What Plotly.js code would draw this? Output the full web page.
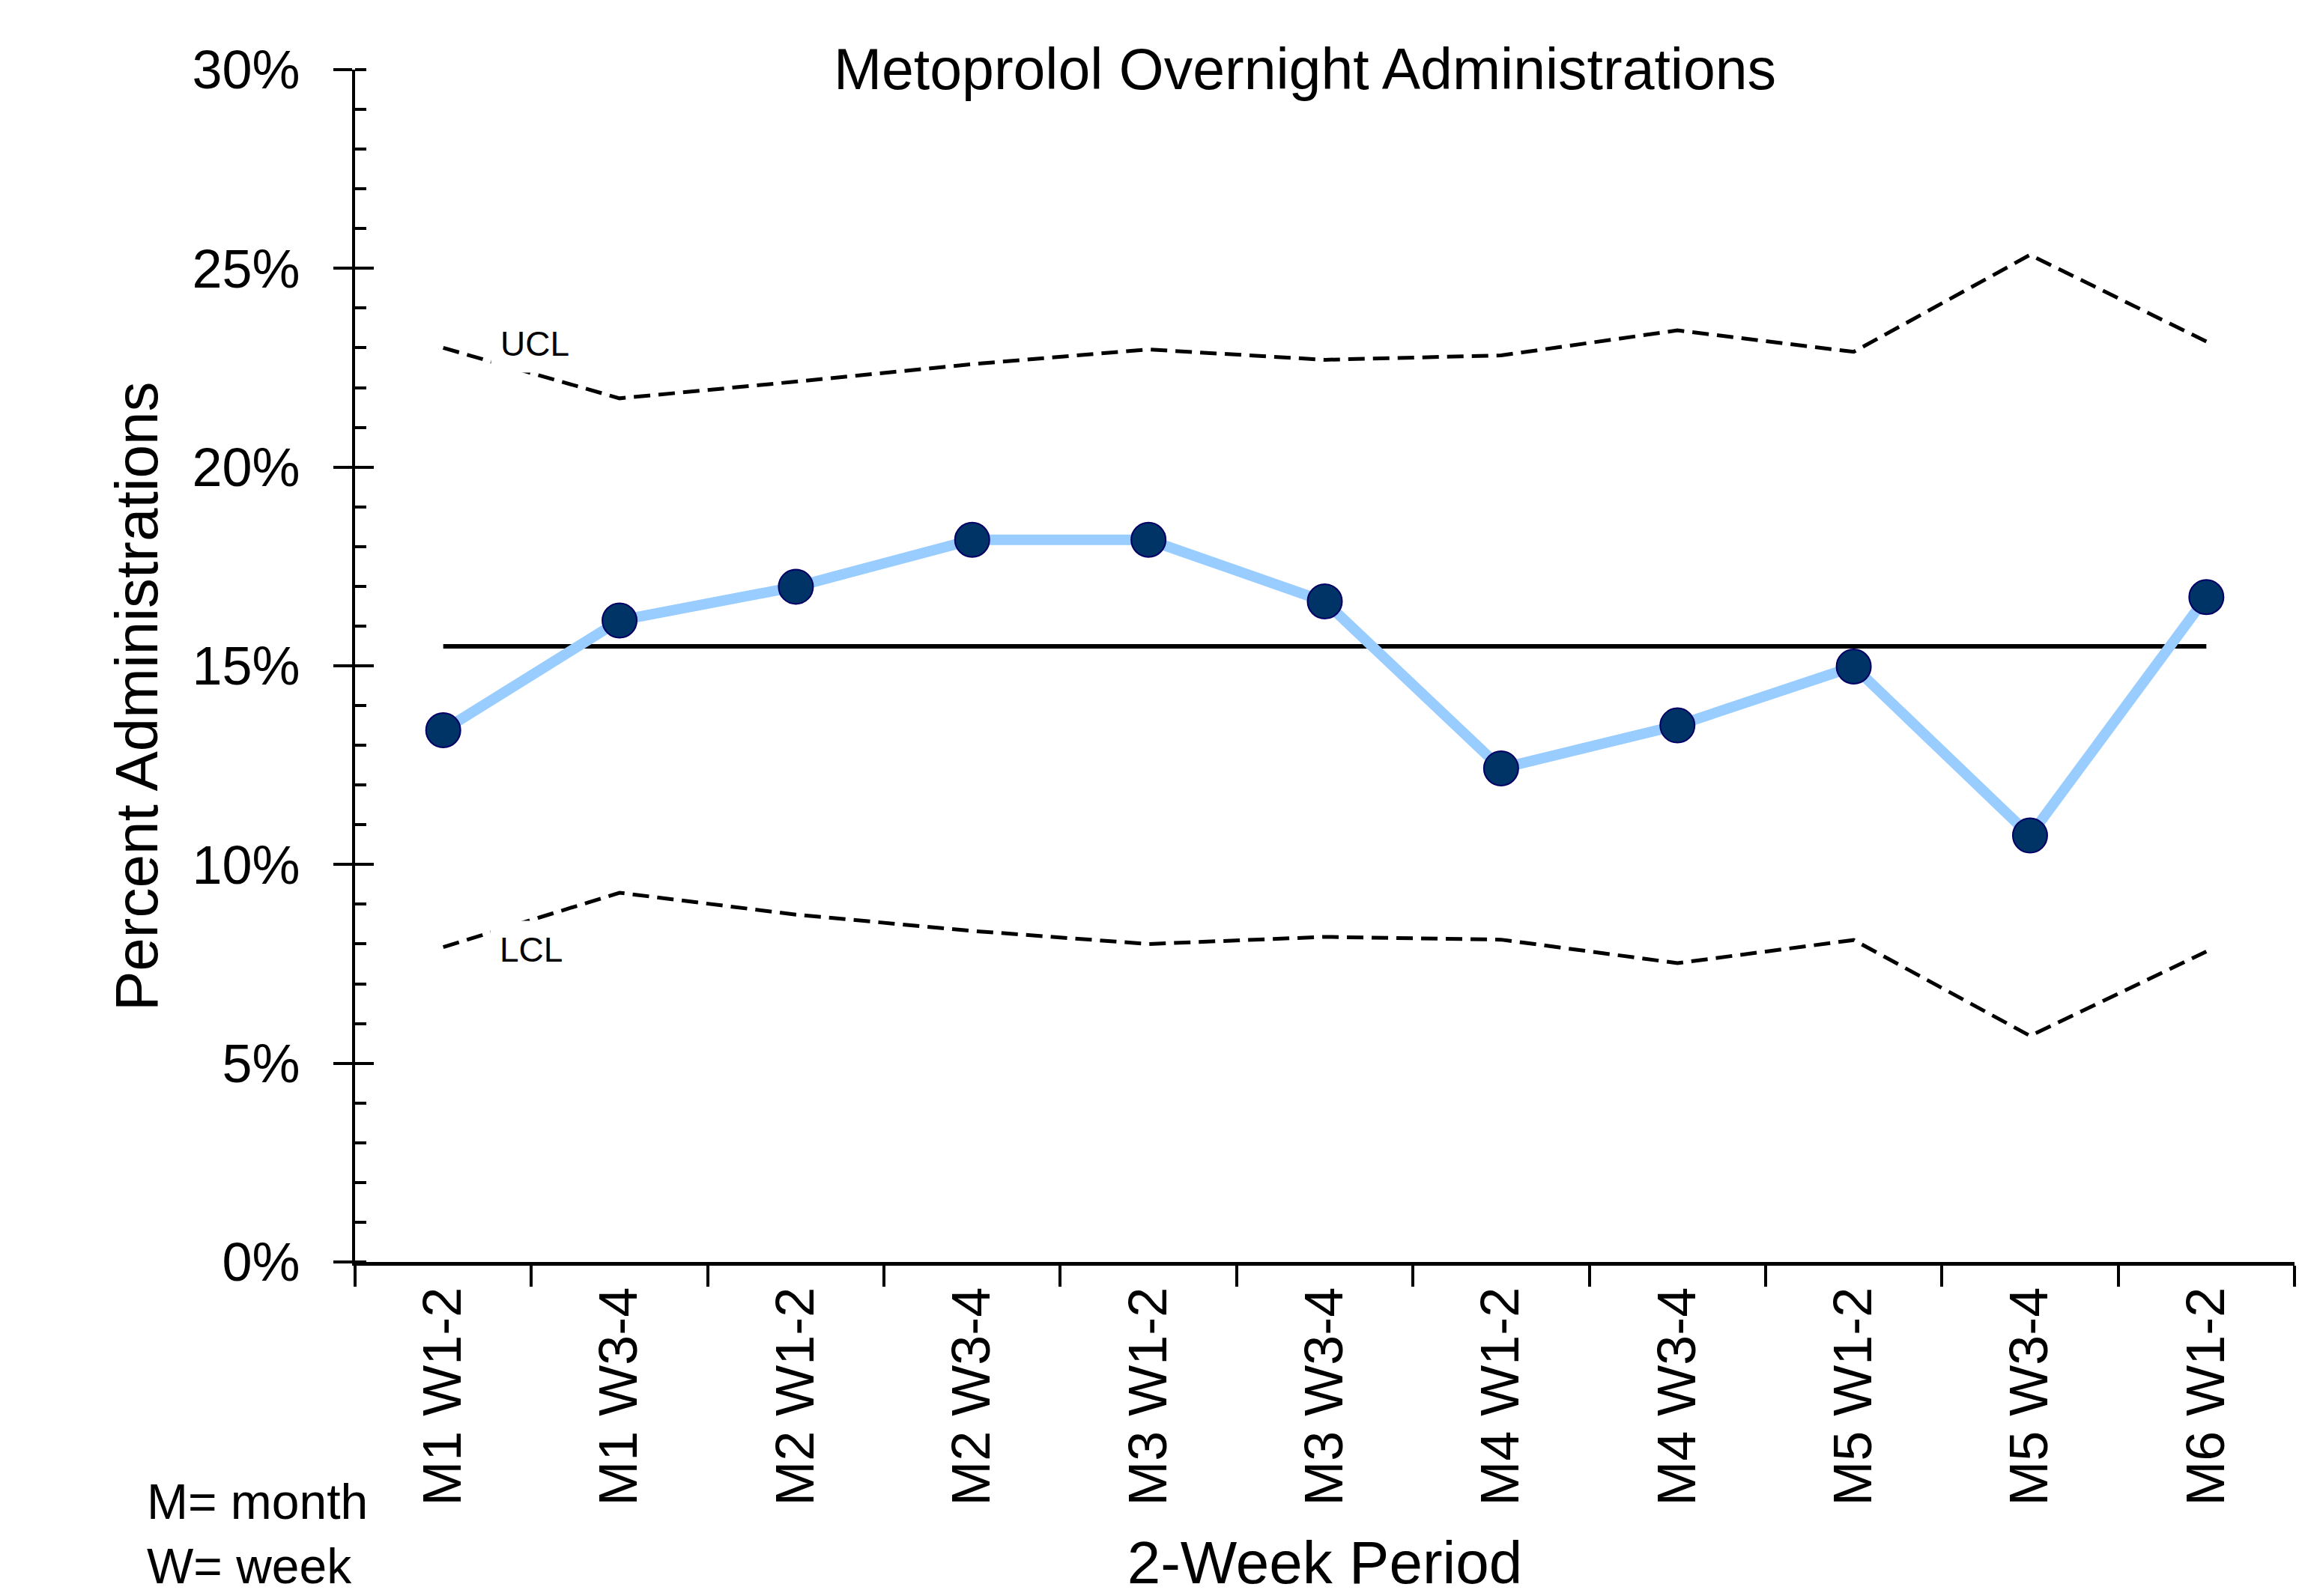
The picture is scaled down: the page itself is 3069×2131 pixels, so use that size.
<!DOCTYPE html>
<html>
<head>
<meta charset="utf-8">
<script src="https://cdn.plot.ly/plotly-3.0.1.min.js"></script>
<style>html,body{margin:0;padding:0;background:#fff;}#chart{width:3069px;height:2131px;}</style>
</head>
<body>
<div id="chart"></div>
<script>
// ---- data ----
const periods = ["M1 W1-2","M1 W3-4","M2 W1-2","M2 W3-4","M3 W1-2","M3 W3-4","M4 W1-2","M4 W3-4","M5 W1-2","M5 W3-4","M6 W1-2"];
const pctAdmin = [0.1338,0.1614,0.1699,0.1817,0.1817,0.1662,0.1242,0.1350,0.1498,0.1073,0.1673];
const centerLine = [0.1549,0.1549,0.1549,0.1549,0.1549,0.1549,0.1549,0.1549,0.1549,0.1549,0.1549];
const ucl = [0.2300,0.2173,0.2215,0.2259,0.2296,0.2270,0.2281,0.2344,0.2290,0.2534,0.2316];
const lcl = [0.0792,0.0929,0.0874,0.0833,0.0800,0.0818,0.0811,0.0752,0.0810,0.0569,0.0781];
const yTickVals = [0,0.05,0.10,0.15,0.20,0.25,0.30];

const FONT = "Liberation Sans, Arial, Helvetica, sans-serif";
const W = 3069, H = 2131, ML = 474, MR = 6, MT = 93, MB = 446;
const plotW = W - ML - MR, plotH = H - MT - MB;
const toPX = px => (px - ML) / plotW;
const toPY = py => (H - MB - py) / plotH;

const traces = [
  {x: periods, y: lcl, type: 'scatter', mode: 'lines', name: 'LCL',
   line: {color: '#000000', width: 5, dash: '22px,11px'}, hoverinfo: 'skip'},
  {x: periods, y: ucl, type: 'scatter', mode: 'lines', name: 'UCL', yaxis: 'y2',
   line: {color: '#000000', width: 5, dash: '22px,11px'}, hoverinfo: 'skip'},
  {x: periods, y: centerLine, type: 'scatter', mode: 'lines', name: 'Mean',
   line: {color: '#000000', width: 6}},
  {x: periods, y: pctAdmin, type: 'scatter', mode: 'lines+markers', name: 'Percent',
   line: {color: '#99ccff', width: 14},
   marker: {color: '#003366', size: 46, line: {color: '#000066', width: 2}}}
];

const layout = {
  width: W, height: H,
  paper_bgcolor: '#ffffff', plot_bgcolor: '#ffffff',
  showlegend: false,
  font: {family: FONT, color: '#000000', size: 70},
  margin: {l: ML, r: MR, t: MT, b: MB, autoexpand: false},
  title: {text: 'Metoprolol Overnight Administrations', font: {family: FONT, size: 77, color: '#000000'},
          x: 1742 / W, xanchor: 'center', xref: 'container', y: 1 - 92 / H, yanchor: 'middle', yref: 'container'},
  xaxis: {
    type: 'category', range: [-0.5, 10.5], fixedrange: true,
    tickson: 'boundaries', ticks: 'outside', ticklen: 28, tickwidth: 4, tickcolor: '#000000',
    tickangle: -90, tickfont: {family: FONT, size: 72, color: '#000000'},
    showline: true, linewidth: 5, linecolor: '#000000', showgrid: false, zeroline: false,
    title: {text: '2-Week Period', font: {family: FONT, size: 80, color: '#000000'}, standoff: 55}
  },
  yaxis: {
    range: [0, 0.30], tickvals: yTickVals, tickformat: '.0%',
    ticks: 'outside', ticklen: 25, tickwidth: 4, tickcolor: '#000000',
    tickfont: {family: FONT, size: 72, color: '#000000'}, ticklabelstandoff: 30,
    minor: {dtick: 0.01, ticks: 'inside', ticklen: 15, tickwidth: 4, tickcolor: '#000000', showgrid: false},
    showline: true, linewidth: 4, linecolor: '#000000', showgrid: false, zeroline: false
  },
  yaxis2: {
    overlaying: 'y', side: 'left', range: [0, 0.30], tickvals: yTickVals,
    ticks: 'inside', ticklen: 25, tickwidth: 4, tickcolor: '#000000',
    showticklabels: false, showline: false, showgrid: false, zeroline: false
  },
  annotations: [
    {text: 'UCL', xref: 'x', yref: 'y', x: 0.52, y: 0.2310, xanchor: 'center', yanchor: 'middle',
     showarrow: false, bgcolor: '#ffffff', borderpad: 12, font: {family: FONT, size: 46, color: '#000000'}},
    {text: 'LCL', xref: 'x', yref: 'y', x: 0.50, y: 0.0785, xanchor: 'center', yanchor: 'middle',
     showarrow: false, bgcolor: '#ffffff', borderpad: 12, font: {family: FONT, size: 46, color: '#000000'}},
    {text: 'Percent Administrations', xref: 'paper', yref: 'paper', x: toPX(182), y: toPY(930),
     xanchor: 'center', yanchor: 'middle', textangle: -90, showarrow: false,
     font: {family: FONT, size: 80, color: '#000000'}},
    {text: 'M= month<br>W= week', xref: 'paper', yref: 'paper', x: toPX(195), y: toPY(2129),
     xanchor: 'left', yanchor: 'bottom', align: 'left', showarrow: false, borderpad: 0,
     font: {family: FONT, size: 66, color: '#000000'}}
  ]
};

Plotly.newPlot('chart', traces, layout, {displayModeBar: false, staticPlot: true});
</script>
</body>
</html>
